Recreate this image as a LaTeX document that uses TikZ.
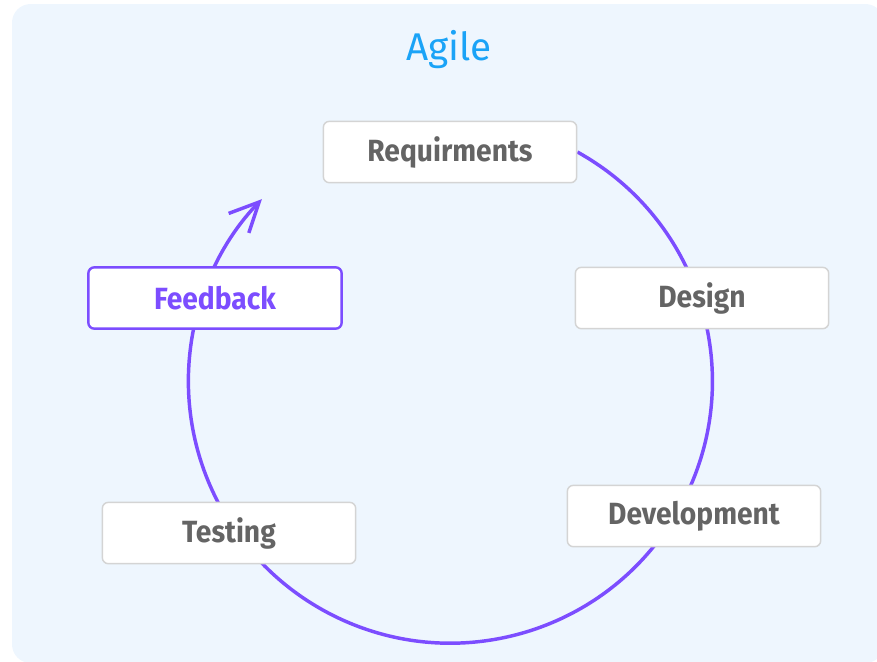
\documentclass[tikz,border=0pt]{standalone}
\usepackage{fontspec}
\setmainfont{Fira Sans}
\newfontfamily\boxfont{Fira Sans}[FakeStretch=0.92]
\usetikzlibrary{arrows.meta}
\definecolor{panel}{HTML}{EEF6FE}
\definecolor{ring}{HTML}{7C4DFF}
\definecolor{title}{HTML}{1AA3F7}
\definecolor{label}{HTML}{646464}
\definecolor{edge}{HTML}{D4D4D4}
\pgfdeclarelayer{back}
\pgfsetlayers{back,main}
\tikzset{
    stage/.style={draw=edge, fill=white, line width=1.1pt, rounded corners=4.5pt, minimum width=190pt, minimum height=46pt, text=label, font=\boxfont\bfseries\fontsize{23}{26}\selectfont},
    active/.style={stage, draw=ring, line width=1.8pt, text=ring},
}
\begin{document}
\begin{tikzpicture}[x=0.75pt, y=0.75pt]
    \useasboundingbox (0,0) rectangle (877,-661);
    \begin{pgfonlayer}{back}
        \fill[panel, rounded corners=14pt] (12,-4) rectangle (884,-663);
    \end{pgfonlayer}

    \node[font=\fontsize{29}{32}\selectfont, text=title] (0) at (449,-50) {Agile};
    \node[stage] (1) at (450,-152) {Requirments};
    \node[stage] (2) at (702,-298) {Design};
    \node[stage] (3) at (694,-516) {Development};
    \node[stage] (4) at (229,-533) {Testing};
    \node[active] (5) at (215,-298) {Feedback};

    \begin{pgfonlayer}{back}
        \draw[ring, line width=2.6pt, -{Straight Barb[length=22pt, width=21pt]}] (1.east) arc[start angle=61, end angle=-224, radius=262];
    \end{pgfonlayer}
\end{tikzpicture}
\end{document}
